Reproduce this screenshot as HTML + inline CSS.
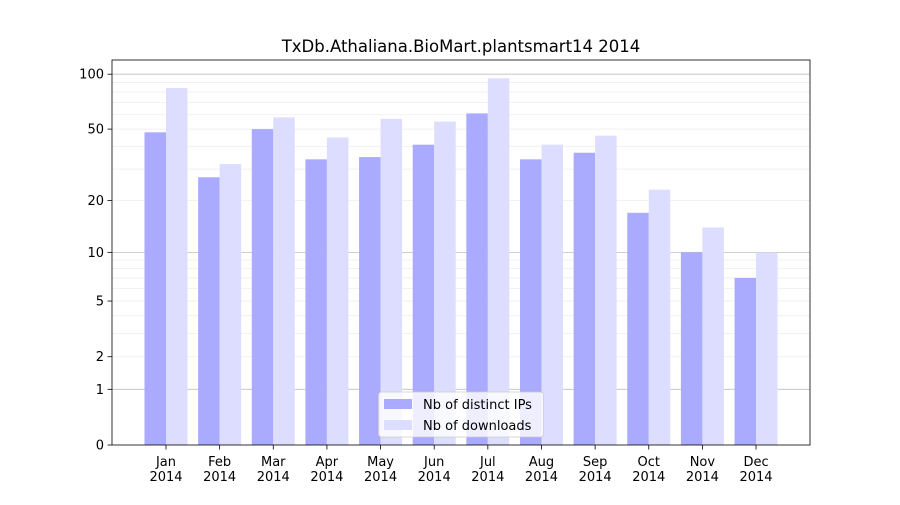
<!DOCTYPE html>
<html><head><meta charset="utf-8"><style>
body{margin:0;background:#fff;}
svg text{font-family:"DejaVu Sans","Liberation Sans",sans-serif;}
</style></head><body>
<svg id="s" width="900" height="500" xmlns="http://www.w3.org/2000/svg">
<rect width="900" height="500" fill="#fff"/>
</svg>
<script>
const s=document.getElementById('s');
let h='';
const Y=v=>445-185*Math.log10(1+v);
const minors=[2,3,4,5,6,7,8,9,20,30,40,50,60,70,80,90];
minors.forEach(v=>{h+=`<line x1="112" x2="810" y1="${Y(v)}" y2="${Y(v)}" stroke="#000" stroke-opacity="0.07" stroke-width="0.8"/>`});
[1,10,100].forEach(v=>{h+=`<line x1="112" x2="810" y1="${Y(v)}" y2="${Y(v)}" stroke="#000" stroke-opacity="0.25" stroke-width="0.8"/>`});
const ips=[48,27,50,34,35,41,61,34,37,17,10,7];
const dl=[84,32,58,45,57,55,95,41,46,23,14,10];
const m=['Jan','Feb','Mar','Apr','May','Jun','Jul','Aug','Sep','Oct','Nov','Dec'];
for(let i=0;i<12;i++){
 const c=166+i*53.64;
 h+=`<rect x="${c-21.5}" y="${Y(ips[i])}" width="21.5" height="${445-Y(ips[i])}" fill="#aaaaff"/>`;
 h+=`<rect x="${c}" y="${Y(dl[i])}" width="21.5" height="${445-Y(dl[i])}" fill="#ddddff"/>`;
 h+=`<line x1="${c}" x2="${c}" y1="445" y2="449.5" stroke="#000" stroke-width="0.8"/>`;
 h+=`<text x="${c}" y="466" font-size="13" text-anchor="middle">${m[i]}</text><text x="${c}" y="481" font-size="13" text-anchor="middle">2014</text>`;
}
[0,1,2,5,10,20,50,100].forEach(v=>{const y=Y(v);h+=`<line x1="107.5" x2="112" y1="${y}" y2="${y}" stroke="#000" stroke-width="0.8"/><text x="104" y="${y+4.5}" font-size="13" text-anchor="end">${v}</text>`});
h+=`<rect x="112" y="60" width="698" height="385" fill="none" stroke="#000" stroke-width="0.8"/>`;
h+=`<text x="461" y="52" font-size="16.5" text-anchor="middle">TxDb.Athaliana.BioMart.plantsmart14 2014</text>`;
h+=`<rect x="378.5" y="392" width="165" height="45" rx="3" fill="#fff" fill-opacity="0.8" stroke="#ccc" stroke-width="0.8"/>`;
h+=`<rect x="384" y="399" width="28" height="10" fill="#aaaaff"/><text x="423" y="409" font-size="13">Nb of distinct IPs</text>`;
h+=`<rect x="384" y="420" width="28" height="10" fill="#ddddff"/><text x="423" y="430" font-size="13">Nb of downloads</text>`;
s.innerHTML+=h;
</script>
</body></html>
